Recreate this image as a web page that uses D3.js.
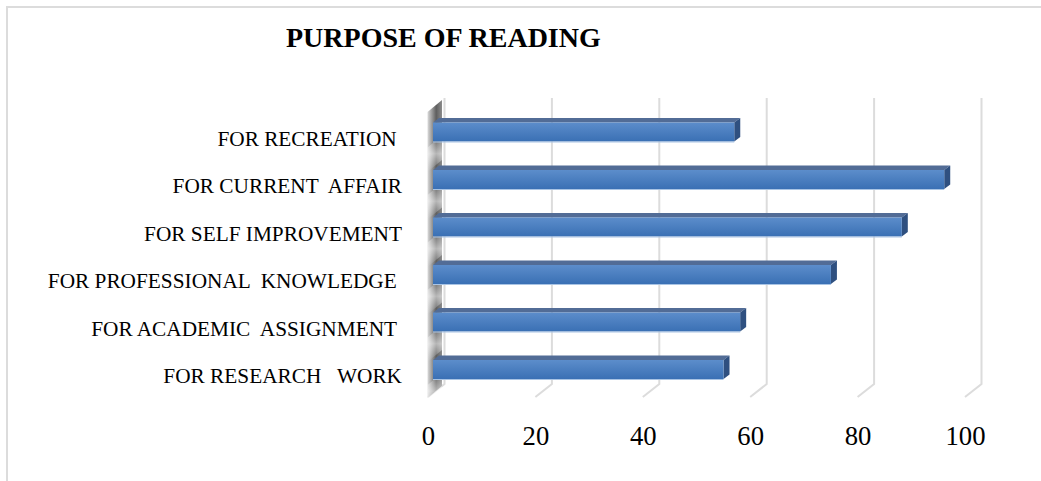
<!DOCTYPE html>
<html>
<head>
<meta charset="utf-8">
<script src="https://cdn.jsdelivr.net/npm/d3@7"></script>
<style>
    html, body { margin: 0; padding: 0; background: #fff; }
    svg { display: block; }
    text { font-family: "Liberation Serif", serif; fill: #000; white-space: pre; }
</style>
</head>
<body>
<div class="container"></div>
<script>
//chart values, bottom bar first
const categories = [
    "FOR RESEARCH   WORK",
    "FOR ACADEMIC  ASSIGNMENT ",
    "FOR PROFESSIONAL  KNOWLEDGE ",
    "FOR SELF IMPROVEMENT",
    "FOR CURRENT  AFFAIR",
    "FOR RECREATION "
];
const values = [54.1, 57.2, 74.1, 87.3, 95.2, 56.1];
const tickValues = [0, 20, 40, 60, 80, 100];
const chartTitle = "PURPOSE OF READING";

const width = 1041, height = 481;
//3d offset of the back wall and of the bar itself
const wallDepth = {x: 16.5, y: 13};
const barDepth = {x: 6, y: 4.5};
const barShift = 5;

const svg = d3.select("div.container").append("svg")
    .attr("width", width)
    .attr("height", height)
    .attr("viewBox", `0 0 ${width} ${height}`);

const x = d3.scaleLinear().domain([0, 100]).range([428, 965]);
const y = d3.scaleBand().domain(categories).range([393.25, 108.25]).paddingInner(0.6).paddingOuter(0.3);
const plotBottom = 397, plotTop = 111;

//gradients
const defs = svg.append("defs");
const barGrad = defs.append("linearGradient").attr("id", "barFace").attr("x1", 0).attr("x2", 0).attr("y1", 0).attr("y2", 1);
barGrad.append("stop").attr("offset", "0%").attr("stop-color", "#5c8dcb");
barGrad.append("stop").attr("offset", "100%").attr("stop-color", "#3a70b4");

const wallGrad = defs.append("linearGradient").attr("id", "wallFace").attr("x1", 0).attr("x2", 1).attr("y1", 0).attr("y2", 0);
wallGrad.append("stop").attr("offset", "0%").attr("stop-color", "#dcdcdc");
wallGrad.append("stop").attr("offset", "18%").attr("stop-color", "#b4b4b4");
wallGrad.append("stop").attr("offset", "60%").attr("stop-color", "#5e5e5e");
wallGrad.append("stop").attr("offset", "100%").attr("stop-color", "#8c8c8c");

const gapGrad = defs.append("linearGradient").attr("id", "wallGap").attr("x1", 0).attr("x2", 0).attr("y1", 0).attr("y2", 1);
gapGrad.append("stop").attr("offset", "0%").attr("stop-color", "#fff").attr("stop-opacity", 0);
gapGrad.append("stop").attr("offset", "50%").attr("stop-color", "#fff").attr("stop-opacity", 0.55);
gapGrad.append("stop").attr("offset", "100%").attr("stop-color", "#fff").attr("stop-opacity", 0);

//outer frame, only top and left are visible
svg.append("path")
    .attr("d", `M7,${height}V7H${width}`)
    .attr("fill", "none")
    .attr("stroke", "#dcdcdc")
    .attr("stroke-width", 2);

//title
svg.append("text")
    .attr("x", 286)
    .attr("y", 47)
    .style("font-size", "28px")
    .style("font-weight", "bold")
    .text(chartTitle);

//gridlines with the floor part
svg.append("g").selectAll("path")
    .data(tickValues)
    .enter()
    .append("path")
    .attr("d", d => `M${x(d) + wallDepth.x},${plotTop - wallDepth.y}V${plotBottom - wallDepth.y}L${x(d)},${plotBottom}`)
    .attr("fill", "none")
    .attr("stroke", "#dcdcdc")
    .attr("stroke-width", 2);

//side wall
const wallX = x(0) - 0.5;
const wall = svg.append("g");
wall.append("path")
    .attr("d", `M${wallX},${plotTop + 1}L${wallX + 14.5},${plotTop - 11}V${plotBottom - 11}L${wallX},${plotBottom + 1}Z`)
    .attr("fill", "url(#wallFace)");
//lighter patches between the bars
wall.selectAll("path.gap")
    .data(categories)
    .enter()
    .append("path")
    .attr("class", "gap")
    .attr("d", d => {
        const top = y(d) + y.bandwidth();
        return `M${wallX},${top + 6}L${wallX + 14.5},${top - 6}V${top + y.step() - y.bandwidth() - 10}L${wallX},${top + y.step() - y.bandwidth() + 2}Z`;
    })
    .attr("fill", "url(#wallGap)");

//bars: top, side, front
const bars = svg.append("g").selectAll("g")
    .data(categories)
    .enter()
    .append("g");

const barLeft = x(0) + barShift;
const barRight = (d, i) => x(values[i]) + barShift;

bars.append("path")
    .attr("d", (d, i) => `M${barLeft},${y(d)}l${barDepth.x},${-barDepth.y}H${barRight(d, i) + barDepth.x}l${-barDepth.x},${barDepth.y}Z`)
    .attr("fill", "#526c96");

bars.append("path")
    .attr("d", (d, i) => `M${barRight(d, i)},${y(d)}l${barDepth.x},${-barDepth.y}v${y.bandwidth()}l${-barDepth.x},${barDepth.y}Z`)
    .attr("fill", "#2f5080");

bars.append("rect")
    .attr("x", barLeft)
    .attr("y", d => y(d))
    .attr("width", (d, i) => barRight(d, i) - barLeft)
    .attr("height", d => y.bandwidth())
    .attr("fill", "url(#barFace)");

//thin light edge under the bar
bars.append("rect")
    .attr("x", barLeft)
    .attr("y", d => y(d) + y.bandwidth())
    .attr("width", (d, i) => barRight(d, i) - barLeft)
    .attr("height", 1)
    .attr("fill", "#a9c4e4");

//category labels
svg.append("g").selectAll("text")
    .data(categories)
    .enter()
    .append("text")
    .attr("x", 402)
    .attr("y", d => y(d) + y.bandwidth() / 2 + 13.5)
    .attr("text-anchor", "end")
    .style("font-size", "21.3px")
    .text(d => d);

//value axis
const xAxis = d3.axisBottom(x).tickValues(tickValues).tickSize(0).tickPadding(0);
const axisG = svg.append("g")
    .attr("transform", "translate(0,420)")
    .call(xAxis);
axisG.select(".domain").remove();
axisG.selectAll("text")
    .style("font-family", '"Liberation Serif", serif')
    .style("font-size", "26.7px")
    .attr("fill", "#000")
    .attr("y", 25)
    .attr("dy", 0);
</script>
</body>
</html>
